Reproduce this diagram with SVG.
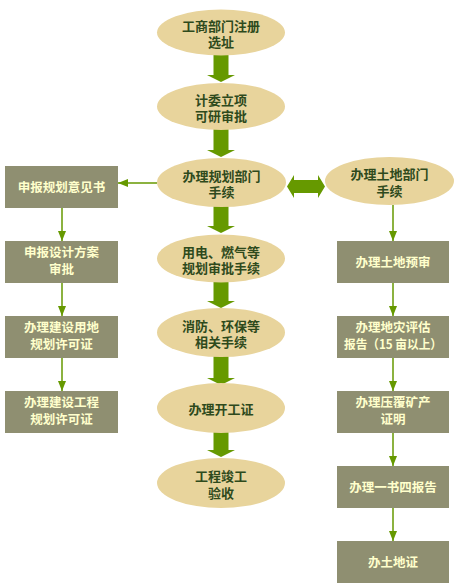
<svg xmlns="http://www.w3.org/2000/svg" width="455" height="588" viewBox="0 0 455 588">
<defs>
<style>
.el{fill:#E8D49C;}
.bx{fill:#8F8F71;}
.et{font-family:"Noto Sans CJK SC","Noto Sans CJK JP",sans-serif;font-size:13px;font-weight:bold;fill:#2E4A1C;text-anchor:middle;}
.bt{font-family:"Noto Sans CJK SC","Noto Sans CJK JP",sans-serif;font-size:12.5px;font-weight:bold;fill:#FFFFCC;text-anchor:middle;}
.big{fill:#669900;}
.thin{stroke:#669900;stroke-width:1.5;fill:none;}
.hd{fill:#669900;}
</style>
<marker id="ah" viewBox="0 0 10 8" refX="10" refY="4" markerWidth="10" markerHeight="8" markerUnits="userSpaceOnUse" orient="auto">
<path d="M0,0 L10,4 L0,8 Z" fill="#669900"/>
</marker>
</defs>
<rect width="455" height="588" fill="#FFFFFF"/>
<g id="connectors">
<polygon class="big" points="213.5,53 228.5,53 228.5,75 235,75 221,82 207,75 213.5,75"/>
<polygon class="big" points="213.5,128 228.5,128 228.5,150 235,150 221,157 207,150 213.5,150"/>
<polygon class="big" points="213.5,205 228.5,205 228.5,226 235,226 221,233 207,226 213.5,226"/>
<polygon class="big" points="213.5,280 228.5,280 228.5,301 235,301 221,308 207,301 213.5,301"/>
<polygon class="big" points="213.5,355 228.5,355 228.5,378 235,378 221,385 207,378 213.5,378"/>
<polygon class="big" points="213.5,431 228.5,431 228.5,450 235,450 221,457 207,450 213.5,450"/>
<polygon class="big" points="287,186.5 294,175 294,180 318,180 318,175 325,186.5 318,198 318,193 294,193 294,198"/>
<line class="thin" x1="157" y1="183" x2="118" y2="183" marker-end="url(#ah)"/>
<line class="thin" x1="62" y1="208" x2="62" y2="241" marker-end="url(#ah)"/>
<line class="thin" x1="62" y1="283" x2="62" y2="316" marker-end="url(#ah)"/>
<line class="thin" x1="62" y1="358" x2="62" y2="391" marker-end="url(#ah)"/>
<line class="thin" x1="393" y1="205" x2="393" y2="241" marker-end="url(#ah)"/>
<line class="thin" x1="393" y1="283" x2="393" y2="316" marker-end="url(#ah)"/>
<line class="thin" x1="393" y1="358" x2="393" y2="391" marker-end="url(#ah)"/>
<line class="thin" x1="393" y1="433" x2="393" y2="466" marker-end="url(#ah)"/>
<line class="thin" x1="393" y1="508" x2="393" y2="541" marker-end="url(#ah)"/>
</g>
<g id="n1"><ellipse class="el" cx="221" cy="32.5" rx="64" ry="23"/><text class="et" x="221" y="30.5">工商部门注册</text><text class="et" x="221" y="47">选址</text></g>
<g id="n2"><ellipse class="el" cx="221" cy="106.5" rx="64" ry="23.5"/><text class="et" x="221" y="104.5">计委立项</text><text class="et" x="221" y="121">可研审批</text></g>
<g id="n3"><ellipse class="el" cx="221.5" cy="182.5" rx="64.5" ry="24.5"/><text class="et" x="221.5" y="180.5">办理规划部门</text><text class="et" x="221.5" y="197">手续</text></g>
<g id="n4"><ellipse class="el" cx="221" cy="258.5" rx="64" ry="24"/><text class="et" x="221" y="256.5">用电、燃气等</text><text class="et" x="221" y="273">规划审批手续</text></g>
<g id="n5"><ellipse class="el" cx="221" cy="332.5" rx="64" ry="24.5"/><text class="et" x="221" y="330.5">消防、环保等</text><text class="et" x="221" y="347">相关手续</text></g>
<g id="n6"><ellipse class="el" cx="221" cy="408" rx="64" ry="25"/><text class="et" x="221" y="414">办理开工证</text></g>
<g id="n7"><ellipse class="el" cx="221" cy="483" rx="64" ry="25"/><text class="et" x="221" y="481">工程竣工</text><text class="et" x="221" y="497.5">验收</text></g>
<g id="n8"><ellipse class="el" cx="389.5" cy="181" rx="64.5" ry="24"/><text class="et" x="389.5" y="179">办理土地部门</text><text class="et" x="389.5" y="195.5">手续</text></g>
<g id="l1"><rect class="bx" x="5" y="166" width="113" height="42"/><text class="bt" x="61.5" y="191.5">申报规划意见书</text></g>
<g id="l2"><rect class="bx" x="5" y="241" width="113" height="42"/><text class="bt" x="61.5" y="257">申报设计方案</text><text class="bt" x="61.5" y="274">审批</text></g>
<g id="l3"><rect class="bx" x="5" y="316" width="113" height="42"/><text class="bt" x="61.5" y="332">办理建设用地</text><text class="bt" x="61.5" y="349">规划许可证</text></g>
<g id="l4"><rect class="bx" x="5" y="391" width="113" height="42"/><text class="bt" x="61.5" y="407">办理建设工程</text><text class="bt" x="61.5" y="424">规划许可证</text></g>
<g id="r1"><rect class="bx" x="337" y="241" width="112" height="42"/><text class="bt" x="393" y="266.5">办理土地预审</text></g>
<g id="r2"><rect class="bx" x="337" y="316" width="112" height="42"/><text class="bt" x="393" y="332">办理地灾评估</text><text class="bt" x="393" y="349" textLength="98" lengthAdjust="spacingAndGlyphs">报告（15 亩以上）</text></g>
<g id="r3"><rect class="bx" x="337" y="391" width="112" height="42"/><text class="bt" x="393" y="407">办理压覆矿产</text><text class="bt" x="393" y="424">证明</text></g>
<g id="r4"><rect class="bx" x="337" y="466" width="112" height="42"/><text class="bt" x="393" y="491.5">办理一书四报告</text></g>
<g id="r5"><rect class="bx" x="337" y="541" width="112" height="42"/><text class="bt" x="393" y="566.5">办土地证</text></g>
</svg>
